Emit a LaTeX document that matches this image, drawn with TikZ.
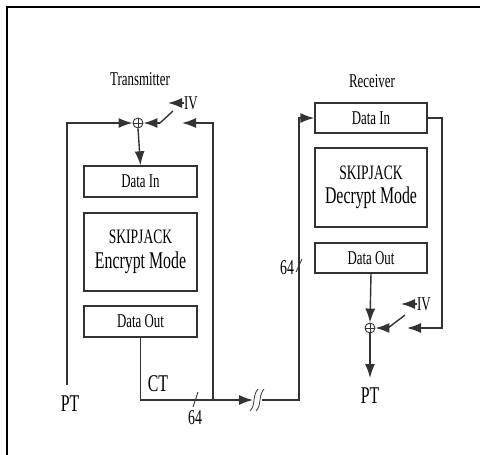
\documentclass[tikz,border=0pt]{standalone}
\usepackage{fontspec}
\setmainfont{Liberation Serif}[FakeStretch=0.66]
\usetikzlibrary{arrows.meta}
\begin{document}
\begin{tikzpicture}[x=1pt,y=-1pt,
  line width=1.4pt, draw=black!80,
  box/.style={draw=black!80, minimum width=113pt, minimum height=31pt, inner sep=0pt,
    font=\fontsize{19.5}{19.5}\selectfont},
  bigbox/.style={box, minimum height=78pt, align=center, font=\fontsize{20.5}{20.5}\selectfont},
  arr/.style={-{Latex[length=14pt,width=10pt]}},
  xorc/.style={circle, draw=black!80, minimum size=10pt, inner sep=0pt, line width=0.9pt,
    path picture={\draw[line width=0.7pt] (path picture bounding box.north) -- (path picture bounding box.south)
      (path picture bounding box.west) -- (path picture bounding box.east);}},
  lbl/.style={inner sep=0pt, font=\fontsize{19.5}{19.5}\selectfont},
  biglbl/.style={inner sep=0pt, font=\fontsize{24}{24}\selectfont}]
\useasboundingbox (0,0) rectangle (480,455);
% outer frame
\draw[line width=2pt, black] (7,460) -- (7,7) -- (485,7);

% ---------------- Transmitter ----------------
\node[lbl] (ttitle) at (140,79) {Transmitter};
\node[xorc] (txor) at (138,123) {};
\node[box] (tdin) at (140.5,181.5) {Data In};
\node[bigbox] (tsk) at (140.5,252) {SKIPJACK\\[4pt]{\fontsize{24}{24}\selectfont Encrypt Mode}};
\node[box] (tdout) at (140.5,321.5) {Data Out};
\node[biglbl] (tpt) at (70,404) {PT};
\node[biglbl] (tct) at (158,384) {CT};
\node[lbl, font=\fontsize{21}{21}\selectfont] (t64) at (195,418) {64};
\node[lbl] (tiv) at (191,103) {IV};

\coordinate (tptend) at (67,385);
\coordinate (tsw) at (160,123);
\coordinate (tswe) at (173,111);
\coordinate (tivtip) at (168,103);
\coordinate (tfbtip) at (182,123);
\coordinate (tfb) at (213,400);
\coordinate (brkA) at (253,400);
\coordinate (brkB) at (262,400);
\coordinate (rbl) at (299,400);

\draw[arr] (tptend) |- (txor.west);
\draw[arr] (tsw) -- (txor.east);
\draw (tsw) -- (tswe);
\draw[arr] (tiv.west) -- (tivtip);
\draw[arr] (tfb) |- (tfbtip);
\draw[arr] (txor.south) -- (tdin.north);
\draw[arr] (tdout.south) |- (brkA);
\draw[line width=0.8pt] (193,407) -- (198,392);
% break marks
\draw[line width=0.8pt] (250,411) .. controls (256,405) and (252,396) .. (258,389);
\draw[line width=0.8pt] (256,411) .. controls (262,405) and (258,396) .. (264,389);

% ---------------- Receiver ----------------
\node[lbl] (rtitle) at (372,81) {Receiver};
\node[box, minimum width=112pt, minimum height=30pt] (rdin) at (371,118) {Data In};
\node[bigbox, minimum width=112pt, minimum height=79pt] (rsk) at (371,187.5) {SKIPJACK\\[4pt]{\fontsize{24}{24}\selectfont Decrypt Mode}};
\node[box, minimum width=112pt, minimum height=30pt] (rdout) at (371,258) {Data Out};
\node[xorc] (rxor) at (370,328) {};
\node[biglbl] (rpt) at (370,396) {PT};
\node[lbl, font=\fontsize{21}{21}\selectfont] (r64) at (287,268) {64};
\node[lbl] (riv) at (424,304) {IV};

\coordinate (rfb) at (442,328);
\coordinate (rfbtip) at (407,328);
\coordinate (rsw) at (388,328);
\coordinate (rswe) at (405,315);
\coordinate (rivtip) at (401,304);
\coordinate (rpttip) at (370,378);

\draw[arr] (brkB) -- (rbl) |- (rdin.west);
\draw[line width=0.8pt] (296,272) -- (302,259);
\draw[arr] (rdout.south) -- (rxor.north);
\draw[arr] (rxor.south) -- (rpttip);
\draw[arr] (rdin.east) -| (rfb) -- (rfbtip);
\draw (rsw) -- (rswe);
\draw[arr] (rsw) -- (rxor.east);
\draw[arr] (riv.west) -- (rivtip);
\end{tikzpicture}
\end{document}
